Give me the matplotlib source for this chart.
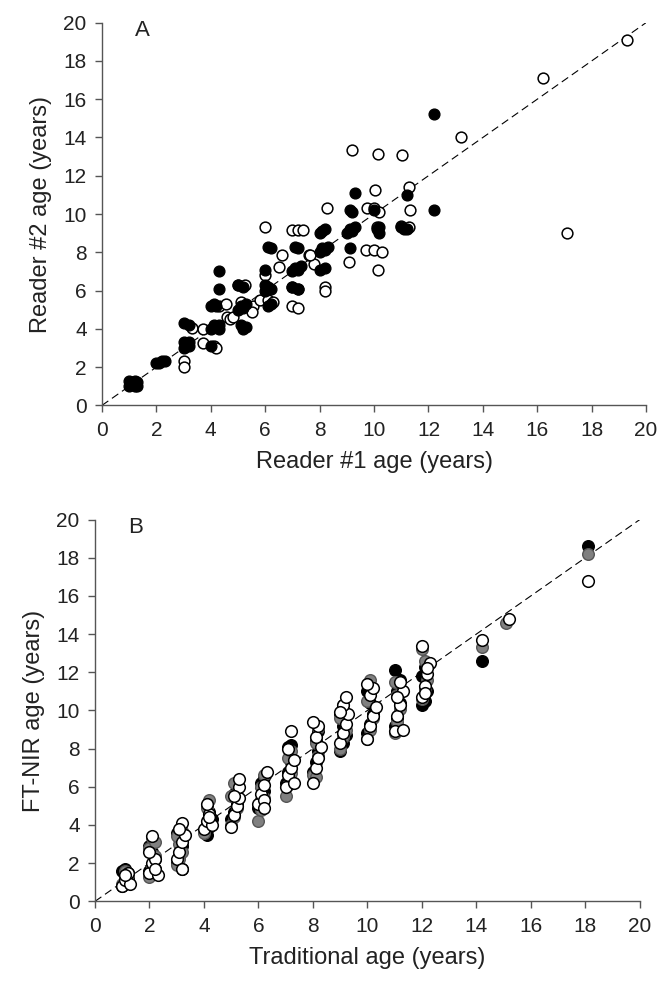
import matplotlib
matplotlib.use("Agg")
import matplotlib.pyplot as plt

plt.rcParams["font.family"] = ["Liberation Sans", "DejaVu Sans"]

# Panel A: reader #1 vs reader #2 ages
a_filled_x = [1.0, 1.1, 1.2, 1.3, 1.0, 1.2, 1.1, 1.3,
              2.0, 2.1, 2.2, 2.3,
              3.0, 3.1, 3.2, 3.0, 3.2, 3.0, 3.2,
              4.0, 4.0, 4.1, 4.2, 4.3, 4.1, 4.3, 4.0, 4.2, 4.1, 4.3, 4.3,
              5.0, 5.1, 5.2, 5.3, 5.1, 5.2, 5.3, 5.0, 5.2,
              6.0, 6.1, 6.2, 6.1, 6.2, 6.0, 6.1, 6.2, 6.0,
              7.0, 7.1, 7.2, 7.3, 7.1, 7.2, 7.0, 7.2,
              8.0, 8.1, 8.2, 8.3, 8.1, 8.2, 8.0, 8.2, 8.0,
              9.0, 9.1, 9.2, 9.3, 9.1, 9.2, 9.1, 9.3,
              10.1, 10.2, 10.0, 10.2,
              11.1, 11.2, 11.2, 11.0,
              12.2, 12.2]
a_filled_y = [1.0, 1.2, 1.1, 1.0, 1.3, 1.3, 1.1, 1.2,
              2.2, 2.2, 2.3, 2.3,
              3.0, 3.2, 3.1, 3.3, 3.3, 4.3, 4.2,
              3.1, 4.0, 4.2, 4.1, 4.2, 4.1, 4.0, 5.2, 5.2, 5.3, 6.1, 7.0,
              5.0, 5.2, 5.1, 5.3, 4.2, 4.0, 4.1, 6.3, 6.2,
              6.0, 6.2, 6.1, 5.2, 5.3, 7.1, 8.3, 8.2, 6.3,
              7.0, 7.2, 7.1, 7.3, 8.3, 8.2, 6.2, 6.1,
              8.0, 8.2, 8.1, 8.3, 9.1, 9.2, 7.1, 7.2, 9.0,
              9.0, 9.2, 9.1, 9.3, 10.2, 10.1, 8.2, 11.1,
              9.2, 9.0, 10.2, 9.3,
              9.2, 9.2, 11.0, 9.3,
              15.2, 10.2]

a_open_x = [1.1, 1.2,
            3.0, 3.0, 3.1, 3.3, 3.7, 3.7, 4.1, 4.2,
            4.3, 4.55, 4.6, 4.7, 4.8, 5.0, 5.25, 5.57, 5.8,
            5.1, 5.5, 6.1, 6.3, 6.0, 6.6, 6.5,
            7.0, 7.2, 7.0, 7.2, 7.6, 7.8,
            9.18, 10.13, 11.04, 13.19, 10.04, 11.29,
            8.26, 9.73, 10.0, 10.2, 11.32, 5.99,
            7.0, 7.2, 7.4, 7.65, 9.7, 10.0, 10.3, 9.08, 10.15,
            8.2, 8.2, 11.0, 11.3, 10.1,
            16.2, 17.1, 19.3]
a_open_y = [1.1, 1.0,
            2.3, 2.0, 3.1, 4.05, 4.0, 3.27, 3.1, 3.0,
            5.2, 5.3, 4.6, 4.5, 4.6, 6.3, 6.3, 5.2, 5.5,
            5.4, 4.9, 5.5, 5.4, 6.8, 7.85, 7.25,
            6.2, 6.1, 5.2, 5.1, 7.85, 7.4,
            13.35, 13.14, 13.07, 14.0, 11.26, 11.4,
            10.33, 10.33, 10.3, 10.1, 10.2, 9.34,
            9.16, 9.16, 9.16, 7.85, 8.1, 8.1, 8.0, 7.5, 7.1,
            6.2, 6.0, 9.4, 9.3, 9.3,
            17.1, 9.0, 19.1]

# Panel B: traditional vs FT-NIR ages (three model series)
b_black_x = [1.0, 1.1, 1.1, 1.2, 1.0, 1.1, 1.2,
             2.0, 2.1, 2.2, 2.1, 2.0, 2.2,
             3.0, 3.1, 3.2, 3.1, 3.2, 3.0,
             4.1, 4.2, 4.3, 4.2, 4.1,
             5.0, 5.1, 5.2, 5.1, 5.2,
             6.0, 6.1, 6.2, 6.1, 6.2,
             7.0, 7.1, 7.2, 7.1, 7.2,
             8.0, 8.1, 8.2, 8.1, 8.2,
             9.0, 9.1, 9.2, 9.1, 9.0,
             10.0, 10.1, 10.2, 10.1, 10.0,
             11.0, 11.1, 11.2, 11.1, 11.0, 11.2,
             12.0, 12.1, 12.2, 12.0, 12.1,
             14.2, 18.1]
b_black_y = [0.8, 1.0, 1.3, 1.5, 1.6, 1.7, 1.2,
             1.6, 1.9, 2.2, 2.6, 2.9, 1.7,
             2.0, 2.4, 2.9, 3.3, 1.7, 3.6,
             3.5, 3.9, 4.3, 4.7, 5.0,
             4.3, 4.7, 5.1, 5.6, 6.0,
             4.9, 5.3, 5.8, 6.2, 6.5,
             6.2, 6.8, 7.3, 8.1, 8.2,
             6.8, 7.3, 7.9, 8.4, 8.9,
             7.9, 8.3, 8.7, 9.2, 9.8,
             8.8, 9.3, 9.8, 10.4, 11.0,
             9.2, 9.6, 10.4, 11.0, 12.1, 11.6,
             10.3, 10.5, 11.0, 11.8, 12.3,
             12.6, 18.6]

b_gray_x = [1.0, 1.1, 1.2, 1.1,
            2.0, 2.1, 2.2, 2.0, 2.1, 2.2,
            3.0, 3.1, 3.2, 3.1, 3.0, 3.2,
            4.0, 4.1, 4.2, 4.1, 4.2,
            5.0, 5.1, 5.2, 5.0, 5.1,
            6.0, 6.1, 6.2, 6.1, 6.2,
            7.0, 7.1, 7.2, 7.1, 7.2,
            8.0, 8.1, 8.2, 8.1, 8.2,
            9.0, 9.1, 9.2, 9.0, 9.1,
            10.0, 10.1, 10.2, 10.0, 10.1,
            11.0, 11.1, 11.2, 11.1, 11.0,
            12.0, 12.1, 12.2, 12.1, 12.0,
            14.2, 15.1, 18.1]
b_gray_y = [0.9, 1.2, 1.4, 1.6,
            1.3, 1.8, 2.4, 2.8, 3.3, 3.1,
            1.9, 2.2, 2.6, 3.0, 3.4, 3.7,
            3.6, 4.1, 4.5, 4.9, 5.3,
            4.0, 4.4, 4.9, 5.5, 6.2,
            4.2, 4.8, 5.4, 6.0, 6.6,
            5.5, 6.1, 6.7, 7.5, 7.9,
            6.6, 6.5, 7.6, 8.3, 9.1,
            8.0, 8.6, 9.0, 9.6, 10.3,
            8.5, 9.0, 9.6, 10.5, 11.6,
            8.8, 9.4, 10.1, 10.8, 11.5,
            10.6, 11.1, 11.6, 12.6, 13.2,
            13.3, 14.6, 18.2]

b_white_x = [1.0, 1.1, 1.2, 1.3, 1.1,
             2.0, 2.1, 2.2, 2.3, 2.1, 2.0, 2.2,
             3.0, 3.1, 3.2, 3.3, 3.2, 3.2, 3.1,
             4.0, 4.1, 4.2, 4.1, 4.3, 4.2,
             5.0, 5.1, 5.2, 5.3, 5.3, 5.3, 5.1,
             6.0, 6.1, 6.2, 6.3, 6.2, 6.2,
             7.0, 7.1, 7.2, 7.3, 7.2, 7.1, 7.3,
             8.0, 8.1, 8.2, 8.3, 8.1, 8.2, 8.0,
             9.0, 9.1, 9.2, 9.3, 9.1, 9.2, 9.0,
             10.0, 10.1, 10.2, 10.3, 10.1, 10.2, 10.0,
             11.0, 11.1, 11.2, 11.3, 11.2, 11.1, 11.3,
             12.0, 12.1, 12.2, 12.3, 12.0, 12.1, 12.2,
             14.2, 15.2, 18.1]
b_white_y = [0.8, 1.1, 1.5, 0.9, 1.4,
             1.5, 2.0, 2.2, 1.4, 3.4, 2.6, 1.7,
             2.2, 2.6, 3.1, 3.5, 4.1, 1.7, 3.8,
             3.8, 4.2, 4.6, 5.1, 4.0, 4.4,
             3.9, 4.5, 5.0, 5.4, 6.0, 6.4, 5.5,
             5.1, 5.6, 6.1, 6.8, 5.3, 4.9,
             6.0, 6.6, 7.0, 7.4, 8.9, 8.0, 6.2,
             6.2, 7.0, 7.5, 8.1, 8.6, 9.2, 9.4,
             8.3, 8.8, 9.3, 9.8, 10.3, 10.7, 9.9,
             8.5, 9.2, 9.7, 10.2, 10.8, 11.2, 11.4,
             8.9, 9.7, 10.3, 11.0, 11.5, 10.7, 9.0,
             10.7, 11.3, 11.9, 12.5, 13.4, 10.9, 12.2,
             13.7, 14.8, 16.8]

ticks = list(range(0, 21, 2))


def style_axes(ax, xlabel, ylabel, letter):
    ax.set_xlim(0, 20)
    ax.set_ylim(0, 20)
    ax.set_xticks(ticks)
    ax.set_yticks(ticks)
    for side in ("top", "right"):
        ax.spines[side].set_visible(False)
    for side in ("left", "bottom"):
        ax.spines[side].set_color("#555555")
        ax.spines[side].set_linewidth(1.0)
    ax.tick_params(direction="out", length=5, width=1.0, color="#555555",
                   labelsize=15, labelcolor="#222222", pad=6)
    ax.set_xlabel(xlabel, fontsize=17, color="#222222", labelpad=8)
    ax.set_ylabel(ylabel, fontsize=17, color="#222222", labelpad=8)
    ax.plot([0, 20], [0, 20], color="black", linewidth=0.8,
            dashes=(7, 4), zorder=1)
    ax.text(1.5, 19.6, letter, fontsize=16, color="#222222",
            ha="center", va="center")


fig = plt.figure(figsize=(6.62, 9.84), dpi=100)
ax_a = fig.add_axes([0.154, 0.588, 0.822, 0.389])
ax_b = fig.add_axes([0.1435, 0.084, 0.823, 0.388])

ax_a.scatter(a_open_x, a_open_y, s=60, facecolor="white", edgecolor="black",
             linewidths=1.1, zorder=2)
ax_a.scatter(a_filled_x, a_filled_y, s=60, facecolor="black", edgecolor="black",
             linewidths=1.0, zorder=3)
style_axes(ax_a, "Reader #1 age (years)", "Reader #2 age (years)", "A")

ax_b.scatter(b_black_x, b_black_y, s=70, facecolor="black", edgecolor="black",
             linewidths=1.0, zorder=2)
ax_b.scatter(b_gray_x, b_gray_y, s=70, facecolor="#808080", edgecolor="#555555",
             linewidths=1.0, zorder=3)
ax_b.scatter(b_white_x, b_white_y, s=70, facecolor="white", edgecolor="black",
             linewidths=1.1, zorder=4)
style_axes(ax_b, "Traditional age (years)", "FT-NIR age (years)", "B")

fig.savefig("out.png", dpi=100)
